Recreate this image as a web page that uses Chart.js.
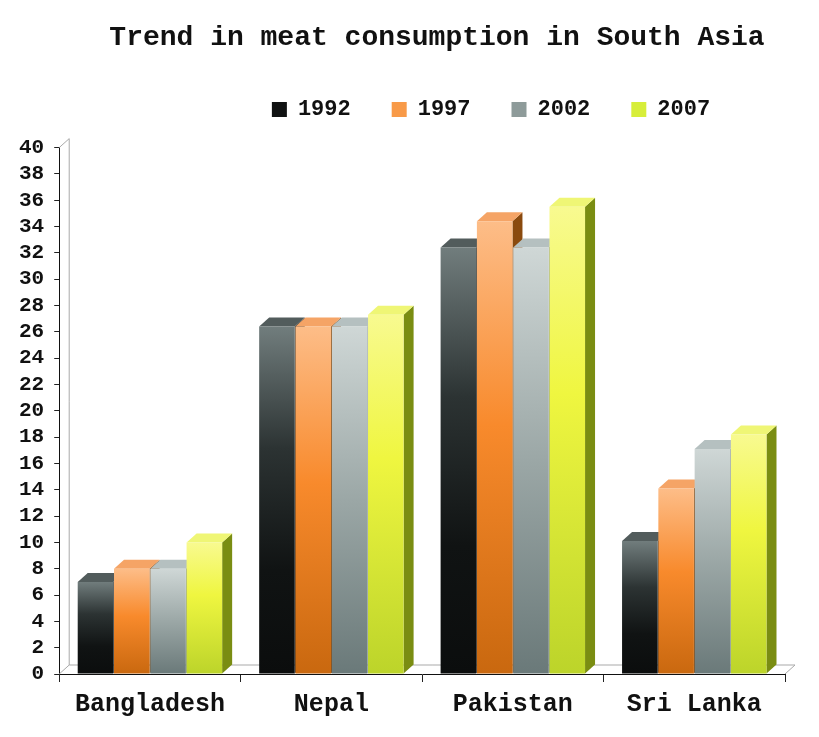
<!DOCTYPE html>
<html>
<head>
<meta charset="utf-8">
<title>Trend in meat consumption in South Asia</title>
<script src="https://cdn.jsdelivr.net/npm/chart.js@4.4.1/dist/chart.umd.min.js"></script>
<style>
  html, body { margin: 0; padding: 0; background: #ffffff; }
</style>
</head>
<body>
<canvas id="meatChart" width="819" height="737"></canvas>
<script>
// Trend in meat consumption in South Asia

const countries = ['Bangladesh', 'Nepal', 'Pakistan', 'Sri Lanka'];
const years = ['1992', '1997', '2002', '2007'];

const meat1992 = [7, 26.4, 32.4, 10.1];
const meat1997 = [8, 26.4, 34.4, 14.1];
const meat2002 = [8, 26.4, 32.4, 17.1];
const meat2007 = [10, 27.3, 35.5, 18.2];

const yMin = 0;
const yMax = 40;
const yStep = 2;

const FONT = "'Liberation Mono', 'Courier New', monospace";

// colours per series: legend swatch, front gradient, top face, side face
const legendColors = ['#101212', '#f89a48', '#8e9b9a', '#d7ee3a'];
const frontStops = [
    [[0, '#717d7d'], [0.35, '#2c3333'], [0.7, '#101313'], [1, '#0b0d0d']],
    [[0, '#fdbd88'], [0.45, '#f88a2c'], [1, '#c9680f']],
    [[0, '#cfd7d6'], [0.5, '#9ba7a6'], [1, '#6a7979']],
    [[0, '#f8fa90'], [0.4, '#eff640'], [1, '#bcd42a']]
];
const topColors = ['#525c5c', '#f5a466', '#b5c0c0', '#eff675'];
const sideColors = ['#2b3131', '#8a4a0e', '#8d9999', '#7a8d12'];

const depthX = 10;
const depthY = 9;

function frontFill(c, i) {
    if (c.type !== 'data' || !c.chart.chartArea) {
        return legendColors[i];
    }
    const yScale = c.chart.scales.y;
    const top = yScale.getPixelForValue(c.raw);
    const bottom = yScale.getPixelForValue(0);
    const g = c.chart.ctx.createLinearGradient(0, top, 0, bottom);
    frontStops[i].forEach(s => g.addColorStop(s[0], s[1]));
    return g;
}

// back wall, floor and the top/side faces of each bar
const bars3d = {
    id: 'bars3d',
    beforeDatasetsDraw(chart) {
        const { ctx, chartArea: a } = chart;
        ctx.save();
        ctx.strokeStyle = '#a9a9a9';
        ctx.lineWidth = 1;
        ctx.beginPath();
        ctx.moveTo(a.left, a.top);
        ctx.lineTo(a.left + depthX, a.top - depthY);
        ctx.lineTo(a.left + depthX, a.bottom - depthY);
        ctx.lineTo(a.right + depthX, a.bottom - depthY);
        ctx.lineTo(a.right, a.bottom);
        ctx.moveTo(a.left, a.bottom);
        ctx.lineTo(a.left + depthX, a.bottom - depthY);
        ctx.stroke();

        countries.forEach((c, j) => {
            chart.data.datasets.forEach((ds, i) => {
                const bar = chart.getDatasetMeta(i).data[j];
                if (!bar) return;
                const { x, y, base, width } = bar.getProps(['x', 'y', 'base', 'width'], true);
                const l = x - width / 2;
                const r = x + width / 2;

                ctx.fillStyle = sideColors[i];
                ctx.beginPath();
                ctx.moveTo(r, y);
                ctx.lineTo(r + depthX, y - depthY);
                ctx.lineTo(r + depthX, base - depthY);
                ctx.lineTo(r, base);
                ctx.closePath();
                ctx.fill();

                ctx.fillStyle = topColors[i];
                ctx.beginPath();
                ctx.moveTo(l, y);
                ctx.lineTo(l + depthX, y - depthY);
                ctx.lineTo(r + depthX, y - depthY);
                ctx.lineTo(r, y);
                ctx.closePath();
                ctx.fill();
            });
        });
        ctx.restore();
    }
};

// title and legend sit right of centre in the original
const shiftHeader = {
    id: 'shiftHeader',
    afterLayout(chart) {
        if (chart.titleBlock) {
            chart.titleBlock.left += 40;
            chart.titleBlock.right += 40;
        }
        if (chart.legend) {
            chart.legend.left += 94;
            chart.legend.right += 94;
            chart.legend.top -= 17;
            chart.legend.bottom -= 17;
        }
    }
};

const seriesValues = [meat1992, meat1997, meat2002, meat2007];

const datasets = years.map((yr, i) => ({
    label: yr,
    data: seriesValues[i],
    backgroundColor: c => frontFill(c, i),
    borderWidth: 0,
    barPercentage: 0.98,
    categoryPercentage: 0.8
}));

new Chart(document.getElementById('meatChart').getContext('2d'), {
    type: 'bar',
    data: {
        labels: countries,
        datasets: datasets
    },
    options: {
        responsive: false,
        animation: false,
        devicePixelRatio: 1,
        layout: {
            padding: { left: 9, right: 34, top: 0, bottom: 9 }
        },
        plugins: {
            title: {
                display: true,
                text: 'Trend in meat consumption in South Asia',
                color: '#111111',
                font: { family: FONT, size: 28, weight: 'bold' },
                padding: { top: 21, bottom: 20 }
            },
            legend: {
                position: 'top',
                maxHeight: 88,
                labels: {
                    boxWidth: 15,
                    boxHeight: 15,
                    padding: 41,
                    color: '#111111',
                    font: { family: FONT, size: 22, weight: 'bold' },
                    generateLabels(chart) {
                        const items = Chart.defaults.plugins.legend.labels.generateLabels(chart);
                        items.forEach(it => {
                            it.fillStyle = legendColors[it.datasetIndex];
                            it.strokeStyle = legendColors[it.datasetIndex];
                            it.lineWidth = 0;
                        });
                        return items;
                    }
                }
            },
            tooltip: { enabled: false }
        },
        scales: {
            x: {
                grid: {
                    display: true,
                    drawOnChartArea: false,
                    drawTicks: true,
                    tickLength: 8,
                    offset: true,
                    color: '#222222'
                },
                border: { display: true, color: '#111111', width: 1 },
                ticks: {
                    color: '#111111',
                    padding: 8,
                    font: { family: FONT, size: 25, weight: 'bold' }
                }
            },
            y: {
                min: yMin,
                max: yMax,
                grid: {
                    drawOnChartArea: false,
                    drawTicks: true,
                    tickLength: 5,
                    color: '#222222'
                },
                border: { display: true, color: '#111111', width: 1 },
                ticks: {
                    stepSize: yStep,
                    autoSkip: false,
                    color: '#111111',
                    padding: 10,
                    font: { family: FONT, size: 21, weight: 'bold' }
                }
            }
        }
    },
    plugins: [bars3d, shiftHeader]
});
</script>
</body>
</html>
